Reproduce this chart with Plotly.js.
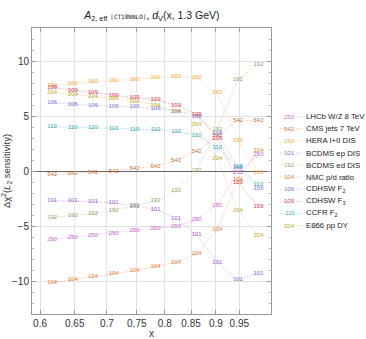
<!DOCTYPE html>
<html>
<head>
<meta charset="utf-8">
<script src="https://cdn.plot.ly/plotly-3.0.1.min.js"></script>
<style>
  html, body { margin: 0; padding: 0; background: #fff; }
  #plot { width: 366px; height: 339px; }
</style>
</head>
<body>
<div id="plot"></div>
<script>
// x points of the scan (log-spaced)
const xs = [0.617, 0.647, 0.678, 0.711, 0.746, 0.783, 0.821, 0.861, 0.903, 0.947, 0.993];

const ids = ["250", "542", "160", "101", "192", "104", "106", "109", "110", "204"];
const names = ["LHCb W/Z 8 TeV", "CMS jets 7 TeV", "HERA I+II DIS", "BCDMS ep DIS", "BCDMS ed DIS",
    "NMC p/d ratio", "CDHSW F<sub>2</sub>", "CDHSW F<sub>3</sub>", "CCFR F<sub>2</sub>", "E866 pp DY"];
const colors = ["#cc66cc", "#c8783c", "#f5a830", "#a05ad2", "#86a866",
    "#f07a30", "#7a74d8", "#d03848", "#30a4b8", "#c8a828"];

const lhcb = [-6.2, -6.0, -5.85, -5.67, -5.45, -5.25, -5.0, -4.4, -3.1, -0.1, 1.5];
const cms = [-0.36, -0.2, -0.15, 0.0, 0.24, 0.45, 0.94, 1.8, 3.2, 4.57, 4.57];
const hera = [7.8, 7.97, 8.1, 8.2, 8.36, 8.5, 8.57, 8.5, 7.1, 2.8, -0.1];
const bcdmsEp = [-2.7, -2.7, -2.8, -2.9, -3.15, -3.5, -4.3, -5.8, -8.3, -9.9, -9.3];
const bcdmsEd = [-4.24, -4.06, -3.85, -3.6, -3.2, -2.7, -1.8, 0.03, 3.8, 8.3, 9.7];
const nmc = [-10.15, -9.9, -9.6, -9.35, -9.05, -8.7, -8.3, -7.5, -5.3, -0.75, 1.9];
const cdhswF2 = [6.2, 6.06, 5.97, 5.9, 5.82, 5.7, 5.45, 5.0, 3.4, 0.3, -1.6];
const cdhswF3 = [7.6, 7.36, 7.1, 6.9, 6.66, 6.5, 6.0, 5.15, 3.0, -1.0, -3.25];
const ccfr = [4.03, 3.97, 3.94, 3.88, 3.79, 3.76, 3.58, 3.27, 2.1, 0.4, -1.27];
const e866 = [7.1, 6.97, 6.76, 6.55, 6.36, 6.0, 5.45, 4.2, 1.15, -3.6, -5.9];

const series = [lhcb, cms, hera, bcdmsEp, bcdmsEd, nmc, cdhswF2, cdhswF3, ccfr, e866];

const xTicks = [0.6, 0.65, 0.7, 0.75, 0.8, 0.85, 0.9, 0.95];
const yTicks = [-10, -5, 0, 5, 10];

const font = "Liberation Sans, Arial, sans-serif";
const dotted = "1px,1.6px";
const fade = c => c + "b0";

const data = series.map((ys, i) => ({
    x: xs,
    y: ys,
    mode: "lines+text",
    text: xs.map(() => ids[i]),
    textposition: "middle center",
    textfont: { family: font, size: 6, color: colors[i] },
    line: { color: fade(colors[i]), width: 0.75, dash: dotted },
    hoverinfo: "x+y+name",
    name: ids[i],
    showlegend: false
}));

// hand-made legend on the right
const annotations = [];
const shapes = [];
ids.forEach((id, i) => {
    const yp = (314 - (116.7 + 12.1 * i)) / 286;
    shapes.push({
        type: "line", xref: "paper", yref: "paper",
        x0: 1.04, x1: 1.13, y0: yp, y1: yp,
        line: { color: fade(colors[i]), width: 0.75, dash: dotted }
    });
    annotations.push({
        xref: "paper", yref: "paper", x: 1.079, y: yp, xanchor: "center", yanchor: "middle",
        text: id, showarrow: false, bgcolor: "#fff", borderpad: 0,
        font: { family: font, size: 6, color: colors[i] }
    });
    annotations.push({
        xref: "paper", yref: "paper", x: 1.14, y: yp, xanchor: "left", yanchor: "middle",
        text: names[i], showarrow: false, font: { family: font, size: 7.8, color: "#222" }
    });
});

const layout = {
    width: 366, height: 339,
    margin: { l: 32, r: 95, t: 28, b: 25 },
    paper_bgcolor: "#fff",
    plot_bgcolor: "#fff",
    font: { family: font, size: 10, color: "#333" },
    title: {
        text: "<i>A</i><sub>2, eff</sub> <span style='font-family:DejaVu Sans Mono,monospace;font-size:6px'>[CT18NNLO]</span>, <i>d</i><sub>V</sub>(x, 1.3 GeV)",
        x: 0.415, xanchor: "center", y: 0.955, yanchor: "middle",
        font: { family: font, size: 10.5, color: "#222" }
    },
    xaxis: {
        type: "log",
        range: [Math.log10(0.589), Math.log10(1.022)],
        tickvals: xTicks, ticktext: xTicks.map(String),
        ticks: "inside", ticklen: 4, tickcolor: "#999",
        showline: true, linecolor: "#999", linewidth: 1, mirror: "ticks",
        showgrid: true, gridcolor: "#e2e2e2", gridwidth: 1,
        zeroline: false,
        tickfont: { size: 10, color: "#333" },
        title: { text: "x", standoff: 4, font: { size: 10, color: "#333" } }
    },
    yaxis: {
        range: [-13, 13],
        tickvals: yTicks, ticktext: ["\u221210", "\u22125", "0", "5", "10"],
        ticks: "inside", ticklen: 4, tickcolor: "#999",
        minor: { dtick: 1, ticks: "inside", ticklen: 2, tickcolor: "#bbb", showgrid: false },
        showline: true, linecolor: "#999", linewidth: 1, mirror: "ticks",
        showgrid: true, gridcolor: "#e2e2e2", gridwidth: 1,
        zeroline: true, zerolinecolor: "#666", zerolinewidth: 1,
        tickfont: { size: 10, color: "#333" },
        title: { text: "\u0394\u03c7<sup>2</sup>(<i>L</i><sub>2</sub> sensitivity)", standoff: 2, font: { size: 9.5, color: "#333" } }
    },
    shapes, annotations
};

Plotly.newPlot("plot", data, layout, { displayModeBar: false, staticPlot: true });
</script>
</body>
</html>
